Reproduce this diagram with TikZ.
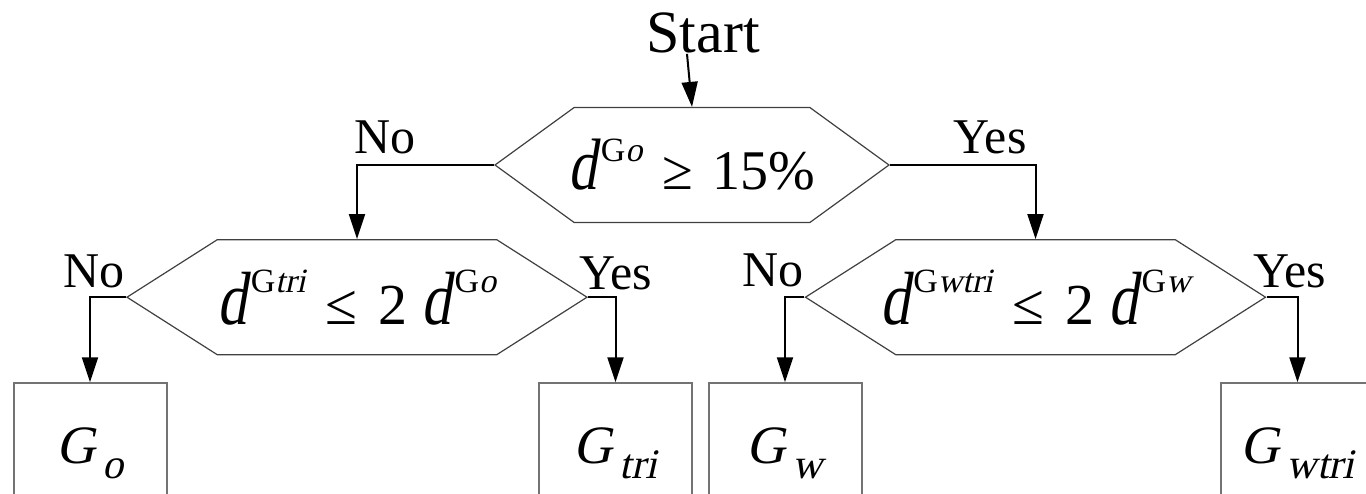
\documentclass[tikz,border=0pt]{standalone}
\usepackage{graphicx}
\usepackage{fontspec}
\setmainfont{Liberation Serif}[ItalicFont={Liberation Serif}, ItalicFeatures={FakeSlant=0.22}]
\usepackage{tikz}
\usetikzlibrary{shapes.symbols, arrows.meta, positioning}

\newcommand{\dsup}[2][16pt]{\scalebox{1}[1.3]{\textit{d}}\kern2pt\raisebox{#1}{\fontsize{17}{17}\selectfont #2}}
\newcommand{\gsub}[1]{\textit{G}\kern3.5pt\raisebox{-7.5pt}{\fontsize{21}{21}\selectfont\textit{#1}}}
\newcommand{\gap}{\hspace{0.35em}}
\newcommand{\nowide}[1]{\makebox[0pt]{#1}}

\begin{document}
\begin{tikzpicture}[
  node distance=8pt,
  test/.style={signal, signal to=east and west, draw=black!75, line width=0.6pt, inner sep=0pt, minimum height=57.5pt, font=\fontsize{29}{29}\selectfont},
  result/.style={rectangle, draw=black!55, line width=1pt, minimum width=76.5pt, minimum height=70pt, font=\fontsize{27}{27}\selectfont},
  lbl/.style={inner sep=0pt, font=\fontsize{25}{25}\selectfont},
  arrow/.style={-{Triangle[length=12.5pt, width=8pt]}, line width=1pt}
]
\useasboundingbox (0,0) rectangle (683pt,-246.5pt);
\clip (0,0) rectangle (683pt,-246.5pt);

\node (dec) [test, minimum width=197pt, signal pointer angle=72, font=\fontsize{28}{28}\selectfont] at (346pt,-82.5pt) {\nowide{\dsup[14pt]{G\textit{o}}\gap≥\gap15\%}};
\node (start) [lbl, font=\fontsize{30}{30}\selectfont, above=26.5pt of dec, xshift=5.5pt] {Start};
\node (lhex) [test, minimum width=230pt, signal pointer angle=65, below=8pt of dec, xshift=-167.5pt] {\nowide{\dsup{G\textit{tri}}\gap≤\gap2 \dsup{G\textit{o}}}};
\node (rhex) [test, minimum width=230pt, signal pointer angle=65, below=8pt of dec, xshift=171.75pt] {\nowide{\dsup{G\textit{wtri}}\gap≤\gap2 \dsup{G\textit{w}}}};

\node (go) [result, below=13.5pt of lhex, xshift=-133.5pt] {\gsub{o}};
\node (gtri) [result, below=13.5pt of lhex, xshift=129.25pt] {\gsub{tri}};
\node (gw) [result, below=13.5pt of rhex, xshift=-125.25pt] {\gsub{w}};
\node (gwtri) [result, below=13.5pt of rhex, xshift=131pt] {\gsub{wtri}};

\draw [arrow] ([xshift=-8pt]start.south) -- (dec.north);
\draw [arrow] (dec.west) -| node (noA) [lbl, pos=0.5, anchor=south west, xshift=-2pt, yshift=5pt] {No} (lhex.north);
\draw [arrow] (dec.east) -| node (yesA) [lbl, pos=0.5, anchor=south east, xshift=-4pt, yshift=5pt] {Yes} (rhex.north);
\draw [arrow] (lhex.west) -| node (noB) [lbl, pos=0, anchor=south east, yshift=4pt] {No} (go.north);
\draw [arrow] (lhex.east) -| node (yesB) [lbl, pos=0, anchor=south west, xshift=-5pt, yshift=3pt] {Yes} (gtri.north);
\draw [arrow] (rhex.west) -| node (noC) [lbl, pos=0, anchor=south east, yshift=4.5pt] {No} (gw.north);
\draw [arrow] (rhex.east) -| node (yesC) [lbl, pos=0, anchor=south west, xshift=-7pt, yshift=4pt] {Yes} (gwtri.north);

\end{tikzpicture}
\end{document}
